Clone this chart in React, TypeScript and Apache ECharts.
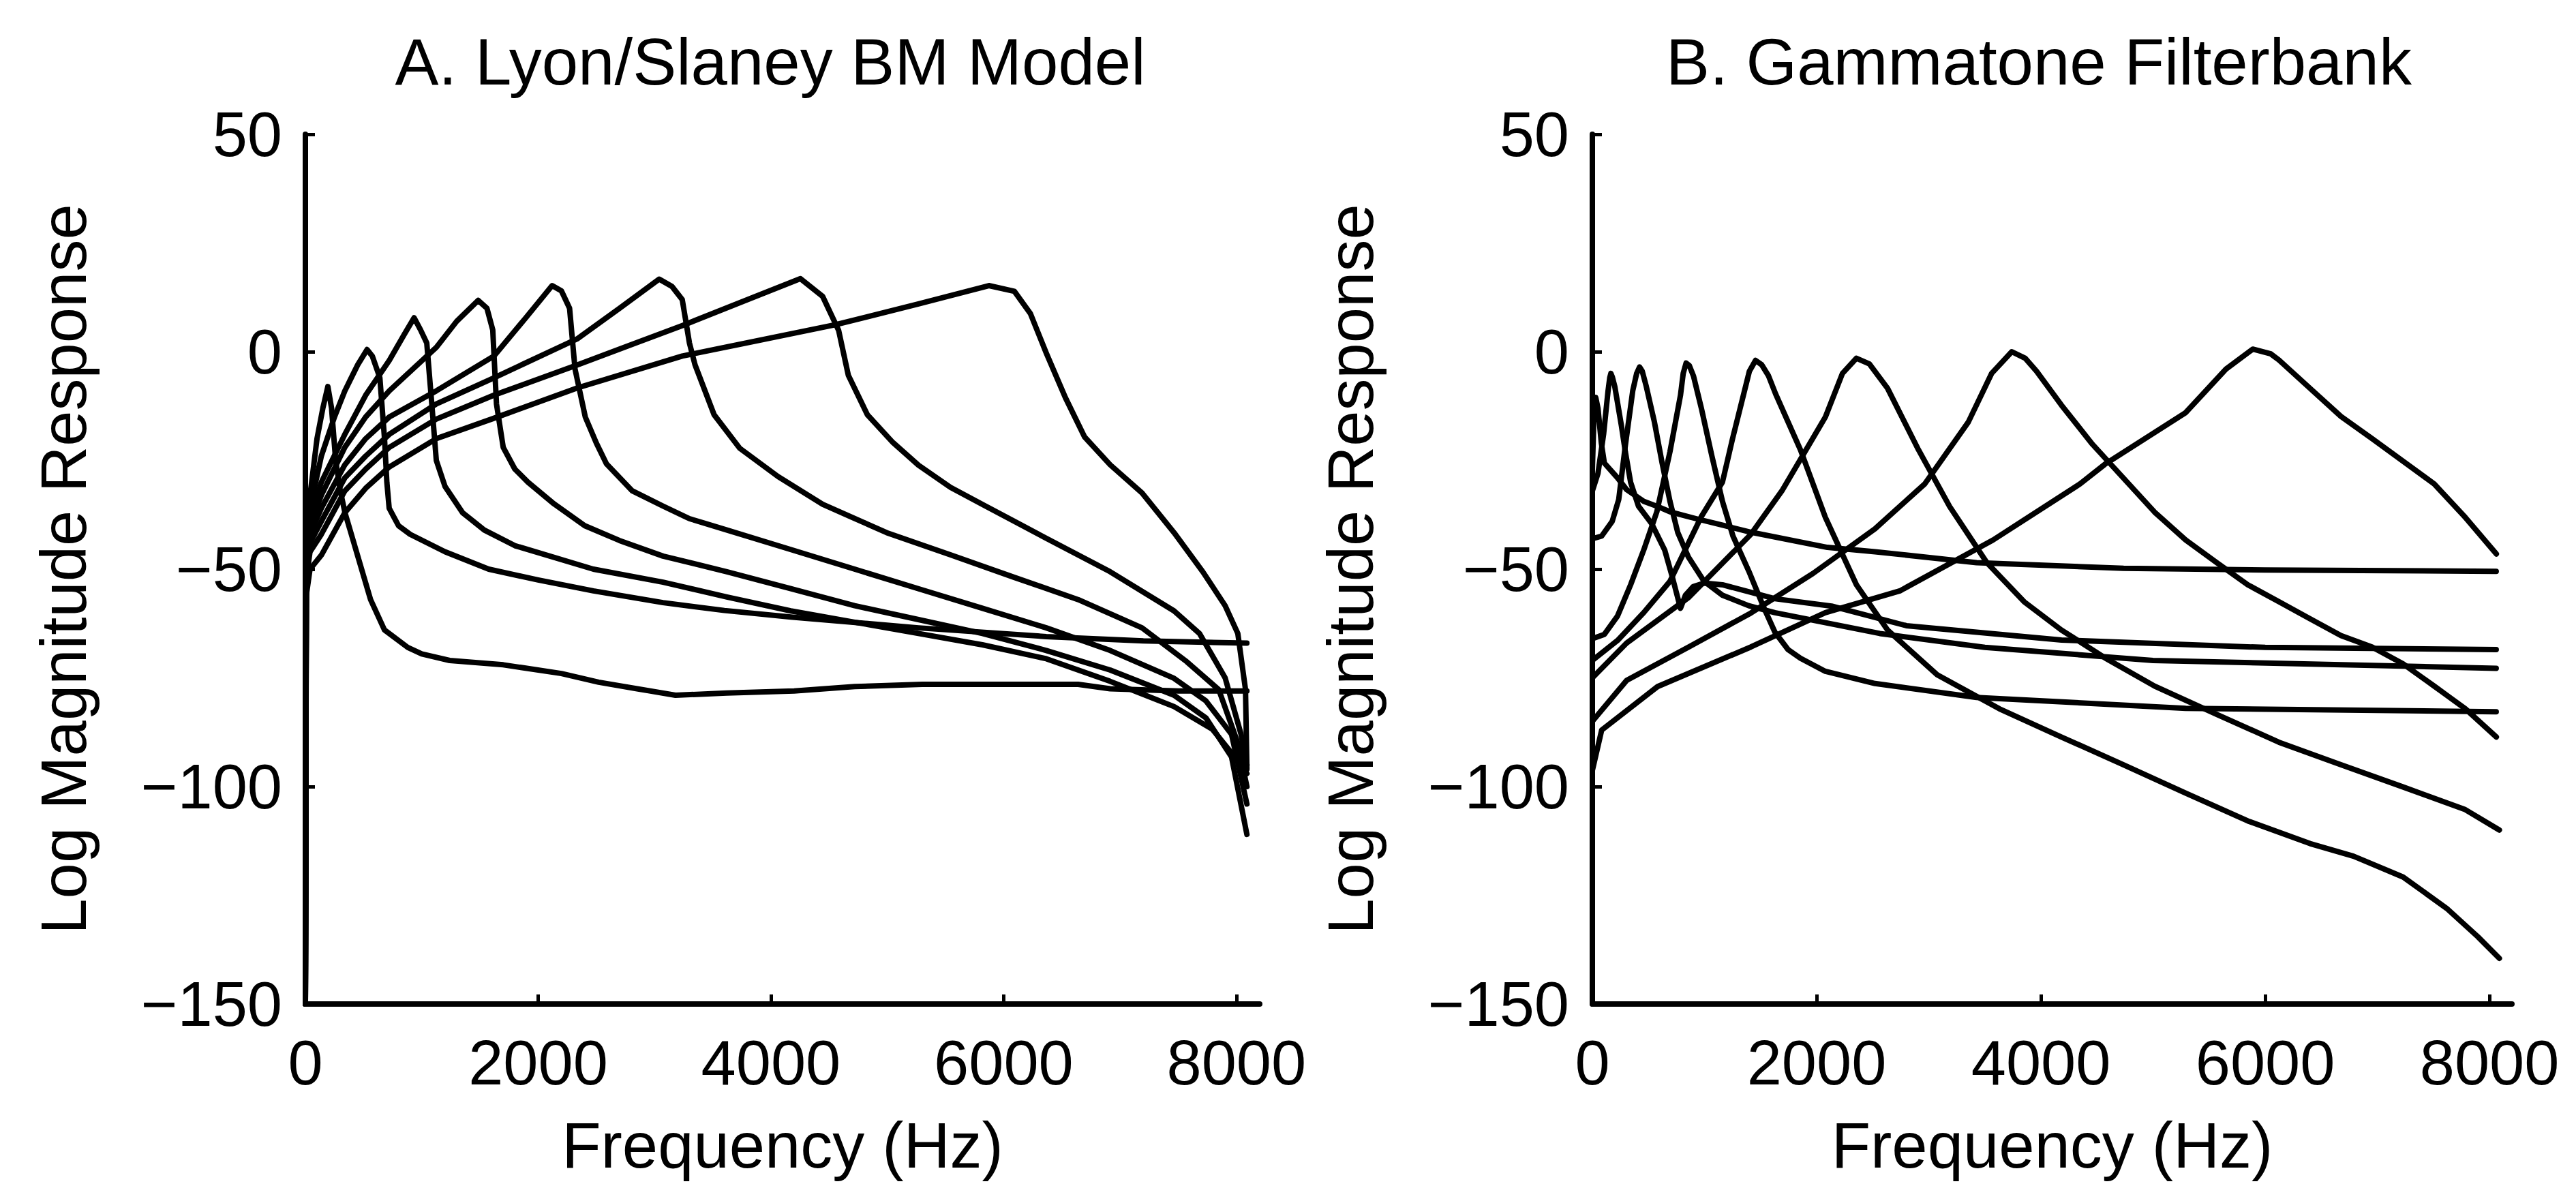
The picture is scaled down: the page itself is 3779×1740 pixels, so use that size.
import React, { useEffect, useRef } from 'react';
import * as echarts from 'echarts';

const xTicks = [0, 2000, 4000, 6000, 8000];
const titles = ['A. Lyon/Slaney BM Model', 'B. Gammatone Filterbank'];
const xName = 'Frequency (Hz)';
const yName = 'Log Magnitude Response';

// Panel A: Lyon/Slaney basilar-membrane model, [Hz, dB]
const lyon1 = [[0,-150],[8,-40],[40,-33],[100,-20],[150,-13],[193,-8],[225,-13],[260,-25],[300,-32],[340,-37],[450,-47],[560,-57],[680,-64],[880,-68],[1000,-69.5],[1240,-71],[1700,-72],[2200,-74],[2520,-76],[2850,-77.5],[3180,-79],[3620,-78.5],[4200,-78],[4720,-77],[5300,-76.5],[5820,-76.5],[6640,-76.5],[6915,-77.5],[7500,-78],[8090,-78]];
const lyon2 = [[0,-150],[8,-42],[40,-36],[137,-24],[250,-15],[339,-9],[450,-3],[530,0.5],[575,-1],[640,-6],[680,-20],[700,-30],[720,-36],[800,-40],[901,-42],[1200,-46],[1575,-50],[2000,-52.5],[2474,-55],[3073,-57.7],[3600,-59.5],[4171,-61],[5268,-63.5],[6366,-65.5],[7200,-66.5],[8090,-67]];
const lyon3 = [[0,-150],[8,-44],[40,-38],[137,-30],[339,-19],[518,-10],[721,-2],[850,4],[934,7.8],[990,5],[1043,2],[1080,-10],[1125,-25],[1200,-31],[1350,-37],[1537,-41],[1800,-44.6],[2474,-50],[3073,-53],[3622,-56.4],[4171,-59.6],[4720,-62.2],[5268,-64.8],[5817,-67.4],[6366,-70.6],[6915,-75.8],[7464,-81.6],[7793,-86.8],[8040,-95],[8090,-97]];
const lyon4 = [[0,-150],[8,-46],[40,-40],[137,-33],[339,-22],[518,-15],[721,-9],[1125,1],[1300,7],[1485,11.8],[1560,10],[1610,5],[1642,-12],[1700,-22],[1800,-27],[1912,-30],[2137,-35],[2400,-40],[2698,-43.4],[3073,-47],[3622,-50.6],[4171,-54.5],[4720,-58.4],[5268,-61.6],[5817,-64.8],[6366,-68.7],[6915,-73.2],[7464,-79],[7738,-84.2],[7958,-93.2],[8090,-111]];
const lyon5 = [[0,-150],[8,-48],[40,-42],[137,-36],[339,-26],[518,-20],[721,-15],[1125,-9],[1620,-1],[1900,8],[2120,15.2],[2200,14],[2270,10],[2317,-4],[2405,-15],[2500,-21],[2587,-25.8],[2809,-32],[3073,-35.5],[3301,-38.4],[3622,-41],[4171,-45.5],[4720,-50],[5268,-54.5],[5817,-59],[6366,-63.5],[6915,-68.7],[7464,-75.1],[7738,-80.3],[7958,-88],[8090,-104]];
const lyon6 = [[0,-150],[8,-50],[40,-44],[137,-39],[339,-29],[518,-24],[721,-19],[1125,-12],[1620,-6],[2339,3],[2700,10],[3040,16.7],[3150,15],[3238,12],[3300,2],[3348,-3],[3512,-14.5],[3732,-22.2],[4061,-28.7],[4445,-35.1],[4994,-41.6],[5543,-46.7],[6092,-51.9],[6640,-57],[7189,-63.5],[7574,-71.3],[7848,-77.7],[8012,-90],[8090,-100]];
const lyon7 = [[0,-150],[8,-52],[40,-46],[137,-42],[339,-32],[518,-27],[721,-22],[1125,-15.5],[1620,-10],[2339,-3],[3238,6],[3800,12],[4254,16.8],[4445,12.7],[4582,4.9],[4665,-5.4],[4829,-14.5],[5049,-20.9],[5268,-26.1],[5543,-31.2],[5817,-35.1],[6366,-42.9],[6915,-50.6],[7464,-59.6],[7683,-64.8],[7903,-75],[8040,-88],[8090,-95]];
const lyon8 = [[0,-150],[8,-56],[40,-50],[137,-46.8],[339,-37],[518,-31.4],[721,-26.5],[1125,-20],[1620,-15.3],[2339,-8.3],[3238,-1],[4555,6.2],[5268,11],[5873,15.2],[6092,13.9],[6229,8.8],[6366,-0.3],[6531,-10.6],[6695,-19.6],[6915,-26],[7189,-32.5],[7464,-41.6],[7711,-50.6],[7903,-58.4],[8012,-64.8],[8078,-77.7],[8090,-96]];

// Panel B: Gammatone filterbank, [Hz, dB]
const gamma1 = [[0,-27],[15,-14],[30,-10.5],[50,-13],[80,-21],[107,-25.6],[224,-29],[305,-31.7],[458,-34.4],[582,-35.6],[692,-36.8],[926,-38.4],[1413,-41.5],[2096,-45],[2521,-46],[3426,-48.5],[4737,-49.8],[6000,-50.2],[8060,-50.5]];
const gamma2 = [[0,-32],[50,-28],[100,-19],[140,-9],[155,-6],[165,-5],[178,-5.8],[200,-8],[259,-17],[294,-23],[341,-30],[411,-35.5],[528,-39.5],[645,-45.6],[715,-52],[786,-59],[830,-56],[900,-54],[1000,-53.2],[1160,-53.6],[1628,-56.8],[2133,-58.5],[2800,-63],[4183,-66.3],[6000,-68],[8060,-68.5]];
const gamma3 = [[0,-43],[83,-42.4],[177,-39],[235,-34],[294,-21.6],[360,-9],[395,-5],[421,-3.5],[445,-4.5],[481,-8],[552,-16],[622,-25.6],[692,-34.4],[762,-41.6],[856,-47.2],[996,-52.8],[1160,-56],[1394,-58.4],[1628,-60],[2096,-62.4],[2564,-64.8],[3500,-68],[5000,-71],[8060,-72.8]];
const gamma4 = [[0,-66],[107,-65],[224,-60.8],[341,-53.6],[458,-45.6],[575,-36.8],[692,-23],[786,-10],[810,-5],[836,-2.6],[865,-3.2],[902,-5.6],[972,-13],[1066,-24],[1160,-34.4],[1254,-42.4],[1394,-50.4],[1535,-59.2],[1628,-64.5],[1745,-68.5],[1856,-70.5],[2078,-73.5],[2521,-76.3],[3426,-79.5],[5291,-82],[8060,-82.8]];
const gamma5 = [[0,-71],[224,-66.4],[458,-60],[692,-52.8],[970,-38],[1160,-30],[1250,-20],[1347,-10],[1400,-4.5],[1455,-2],[1510,-3],[1570,-5.5],[1634,-9.7],[1856,-22.6],[2078,-38.1],[2355,-53.6],[2632,-64],[3075,-74.3],[3629,-82.1],[4183,-88.6],[4737,-95],[5291,-101.5],[5845,-107.9],[6399,-113.1],[6787,-116],[7230,-120.8],[7618,-128],[7895,-134.5],[8088,-139.5]];
const gamma6 = [[0,-75],[305,-67],[859,-56.5],[1413,-42],[1690,-32],[2078,-15],[2230,-5],[2355,-1.5],[2470,-2.8],[2632,-8.4],[2909,-22.6],[3186,-35.6],[3518,-48.5],[3850,-57.5],[4183,-64],[4571,-70.4],[5014,-76.9],[5568,-83.4],[6122,-89.8],[6676,-95],[7230,-100.1],[7784,-105.3],[8088,-110]];
const gamma7 = [[0,-85],[305,-75.6],[859,-67.9],[1413,-60.1],[1967,-51],[2521,-40.7],[2964,-30.4],[3352,-16.2],[3560,-5],[3740,0],[3860,-1.5],[3961,-4.5],[4183,-12.3],[4460,-21.3],[4737,-29.1],[5014,-36.9],[5291,-43.3],[5568,-48.5],[5845,-53.6],[6122,-57.5],[6399,-61.4],[6676,-65.3],[6953,-67.9],[7230,-71.8],[7507,-76.9],[7784,-82.1],[8061,-88.6]];
const gamma8 = [[0,-96.3],[83,-87],[582,-77],[1413,-67.9],[2077,-60],[2742,-55],[3573,-43.3],[4349,-30.4],[4570,-25.9],[5291,-14],[5650,-4],[5889,0.6],[6050,-0.5],[6122,-1.9],[6399,-8.4],[6676,-14.9],[6953,-20],[7230,-25.2],[7507,-30.4],[7784,-38.1],[8061,-46.5]];

const lyonCurves = [lyon1, lyon2, lyon3, lyon4, lyon5, lyon6, lyon7, lyon8];
const gammaCurves = [gamma1, gamma2, gamma3, gamma4, gamma5, gamma6, gamma7, gamma8];

const FONT = '"Liberation Sans", Arial, Helvetica, sans-serif';

export default function App() {
  const ref = useRef<HTMLDivElement>(null);
  useEffect(() => {
    if (!ref.current) return;
    const chart = echarts.init(ref.current, null, { renderer: 'svg' });
    const grids = [
      { left: 448, top: 197, width: 1400, height: 1276 },
      { left: 2336, top: 197, width: 1349, height: 1276 },
    ];
    const fmtY = (v: number) => (v < 0 ? '\u2212' + Math.abs(v) : String(v));
    const xAxis = grids.map((_, i) => ({
      type: 'value',
      gridIndex: i,
      min: 0,
      max: 8200,
      interval: 2000,
      name: xName,
      nameLocation: 'middle',
      nameGap: 160,
      nameTextStyle: { fontSize: 94, color: '#000', fontFamily: FONT },
      axisLine: { show: true, onZero: false, lineStyle: { color: '#000', width: 8 } },
      axisTick: { show: true, inside: true, length: 14, customValues: xTicks, lineStyle: { color: '#000', width: 5 } },
      axisLabel: {
        customValues: xTicks,
        margin: 40,
        fontSize: 92,
        color: '#000',
        fontFamily: FONT,
        formatter: (v: number) => (v > 8000 ? '' : String(v)),
      },
      splitLine: { show: false },
    }));
    const yAxis = grids.map((_, i) => ({
      type: 'value',
      gridIndex: i,
      min: -150,
      max: 50,
      interval: 50,
      name: yName,
      nameLocation: 'middle',
      nameRotate: 90,
      nameGap: 308,
      nameTextStyle: { fontSize: 94, color: '#000', fontFamily: FONT },
      axisLine: { show: true, onZero: false, lineStyle: { color: '#000', width: 8 } },
      axisTick: { show: true, inside: true, length: 14, lineStyle: { color: '#000', width: 5 } },
      axisLabel: { margin: 34, fontSize: 92, color: '#000', fontFamily: FONT, formatter: fmtY },
      splitLine: { show: false },
    }));
    const mk = (data: number[][], idx: number) => ({
      type: 'line',
      xAxisIndex: idx,
      yAxisIndex: idx,
      data,
      showSymbol: false,
      symbol: 'none',
      smooth: false,
      lineStyle: { color: '#000', width: 8, join: 'round', cap: 'round' },
      emphasis: { disabled: true },
    });
    const series = [
      ...lyonCurves.map((d) => mk(d, 0)),
      ...gammaCurves.map((d) => mk(d, 1)),
    ];
    chart.setOption({
      animation: false,
      backgroundColor: '#fff',
      grid: grids,
      xAxis,
      yAxis,
      series,
      graphic: [
        { type: 'text', x: 1130, y: 90, style: { text: titles[0], fill: '#000', font: `96px ${FONT}`, align: 'center', verticalAlign: 'middle' } },
        { type: 'text', x: 2991, y: 90, style: { text: titles[1], fill: '#000', font: `96px ${FONT}`, align: 'center', verticalAlign: 'middle' } },
      ],
    });
    return () => chart.dispose();
  }, []);
  return (
    <div
      ref={ref}
      style={{ position: 'fixed', left: 0, top: 0, width: 3779, height: 1740, background: '#fff' }}
    />
  );
}
